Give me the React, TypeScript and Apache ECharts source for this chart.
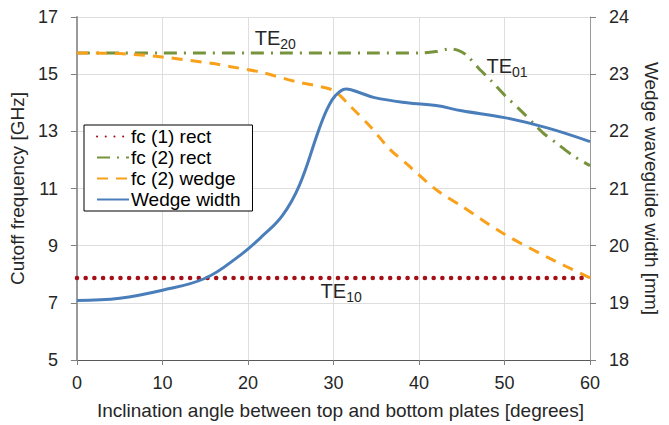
import React, { useEffect, useRef } from "react";
import * as echarts from "echarts";

// Inclination angle [degrees] and values
const rect1Angles = [0, 60];
const rect1Values = [7.87, 7.87];

const rect2Angles = [0, 5, 10, 15, 20, 25, 30, 35, 40, 42, 43.5, 44.5, 45.5, 47, 48.5, 50, 52, 54.5, 56.3, 58, 60];
const rect2Values = [15.74, 15.74, 15.74, 15.74, 15.74, 15.74, 15.74, 15.74, 15.74, 15.79, 15.88, 15.84, 15.68, 15.2, 14.75, 14.27, 13.7, 12.95, 12.54, 12.15, 11.8];

const wedgeAngles = [0, 5, 10, 15.7, 18, 21.5, 25.6, 29, 30.2, 32, 34.3, 36.6, 38.6, 42, 45, 50, 55, 60];
const wedgeValues = [15.74, 15.72, 15.6, 15.38, 15.26, 15.07, 14.74, 14.53, 14.4, 13.87, 13.17, 12.37, 11.85, 10.96, 10.38, 9.4, 8.6, 7.87];

const widthAngles = [0, 5, 10, 15, 18.8, 21.7, 24, 26, 28.3, 29.3, 30.2, 31.5, 33, 34.8, 38.6, 42, 45, 50, 55, 60];
const widthValues = [19.04, 19.08, 19.22, 19.43, 19.8, 20.17, 20.52, 21.05, 22.03, 22.4, 22.62, 22.74, 22.68, 22.59, 22.5, 22.45, 22.36, 22.24, 22.06, 21.82];

const xTicks = { min: 0, max: 60, interval: 10 };
const leftTicks = { min: 5, max: 17, interval: 2 };
const rightTicks = { min: 18, max: 24, interval: 1 };

const seriesNames = ["fc (1) rect", "fc (2) rect", "fc (2) wedge", "Wedge width"];

const labelTE20 = { coord: [23.2, 16.25], main: "TE", sub: "20" };
const labelTE01 = { coord: [50.3, 15.3], main: "TE", sub: "01" };
const labelTE10 = { coord: [30.9, 7.42], main: "TE", sub: "10" };

const pairs = (a: number[], v: number[]) => a.map((x, i) => [x, v[i]]);

const FONT = "Liberation Sans";
const TXT = "#262626";

const teLabel = (l: { coord: number[]; main: string; sub: string }) => ({
  coord: l.coord,
  symbol: "circle",
  symbolSize: 0,
  label: {
    show: true,
    position: "inside",
    formatter: `{a|${l.main}}{b|${l.sub}}`,
    rich: {
      a: { fontSize: 20, fontFamily: FONT, color: TXT, lineHeight: 26, verticalAlign: "middle" },
      b: { fontSize: 14, fontFamily: FONT, color: TXT, lineHeight: 26, verticalAlign: "bottom", padding: [12, 0, 0, 0] },
    },
  },
});

export default function App() {
  const ref = useRef<HTMLDivElement>(null);
  useEffect(() => {
    if (!ref.current) return;
    const chart = echarts.init(ref.current, undefined, { renderer: "svg" });
    const axisLabel = { fontSize: 18, fontFamily: FONT, color: TXT };
    const nameStyle = { fontSize: 19, fontFamily: FONT, color: TXT };
    chart.setOption({
      animation: false,
      backgroundColor: "#fff",
      grid: { left: 73, right: 72, top: 17, bottom: 64 },
      legend: {
        orient: "vertical",
        left: 84,
        top: 125,
        data: seriesNames,
        backgroundColor: "#fff",
        borderColor: "#000",
        borderWidth: 1,
        padding: [2, 12, 2, 12],
        itemGap: 2,
        itemWidth: 32,
        itemHeight: 14,
        itemStyle: { opacity: 0 },
        textStyle: { fontSize: 19, fontFamily: FONT, color: "#000", padding: [0, 0, 0, -3] },
      },
      xAxis: {
        type: "value",
        ...xTicks,
        name: "Inclination angle between top and bottom plates [degrees]",
        nameLocation: "middle",
        nameGap: 41,
        nameTextStyle: { ...nameStyle, padding: [0, 0, 0, 14] },
        axisLine: { lineStyle: { color: "#595959", width: 1 } },
        axisTick: { show: true, length: 5, lineStyle: { color: "#808080" } },
        axisLabel: { ...axisLabel, margin: 14 },
        splitLine: { show: true, lineStyle: { color: "#dedede", width: 1 } },
      },
      yAxis: [
        {
          type: "value",
          ...leftTicks,
          name: "Cutoff frequency [GHz]",
          nameLocation: "middle",
          nameGap: 48,
          nameTextStyle: nameStyle,
          axisLine: { show: true, lineStyle: { color: "#9a9a9a", width: 2 } },
          axisTick: { show: true, length: 6, lineStyle: { color: "#808080" } },
          axisLabel: { ...axisLabel, margin: 19 },
          splitLine: { show: true, lineStyle: { color: "#dedede", width: 1 } },
        },
        {
          type: "value",
          ...rightTicks,
          position: "right",
          name: "Wedge waveguide width [mm]",
          nameLocation: "middle",
          nameRotate: -90,
          nameGap: 52,
          nameTextStyle: nameStyle,
          axisLine: { show: true, lineStyle: { color: "#9a9a9a", width: 1 } },
          axisTick: { show: true, length: 6, lineStyle: { color: "#808080" } },
          axisLabel: { ...axisLabel, margin: 19 },
          splitLine: { show: false },
        },
      ],
      series: [
        {
          name: seriesNames[0],
          type: "line",
          yAxisIndex: 0,
          data: pairs(rect1Angles, rect1Values),
          showSymbol: false,
          symbol: "none",
          z: 5,
          lineStyle: { color: "#a50f15", width: 4.5, type: [0.1, 8.6], cap: "round" },
          itemStyle: { color: "#a50f15" },
          markPoint: { silent: true, data: [teLabel(labelTE10)] },
        },
        {
          name: seriesNames[1],
          type: "line",
          yAxisIndex: 0,
          data: pairs(rect2Angles, rect2Values),
          smooth: 0.3,
          showSymbol: false,
          symbol: "none",
          z: 3,
          lineStyle: { color: "#77933c", width: 3, type: [13, 7, 2, 7] },
          itemStyle: { color: "#77933c" },
          markPoint: { silent: true, data: [teLabel(labelTE20), teLabel(labelTE01)] },
        },
        {
          name: seriesNames[2],
          type: "line",
          yAxisIndex: 0,
          data: pairs(wedgeAngles, wedgeValues),
          smooth: 0.3,
          showSymbol: false,
          symbol: "none",
          z: 4,
          lineStyle: { color: "#f9a11b", width: 3, type: [11, 8] },
          itemStyle: { color: "#f9a11b" },
        },
        {
          name: seriesNames[3],
          type: "line",
          yAxisIndex: 1,
          data: pairs(widthAngles, widthValues),
          smooth: 0.4,
          showSymbol: false,
          symbol: "none",
          z: 6,
          lineStyle: { color: "#4a7ebb", width: 3 },
          itemStyle: { color: "#4a7ebb" },
        },
      ],
    });
    return () => chart.dispose();
  }, []);
  return <div ref={ref} style={{ width: 669, height: 425, position: "absolute", left: 0, top: 0 }} />;
}
